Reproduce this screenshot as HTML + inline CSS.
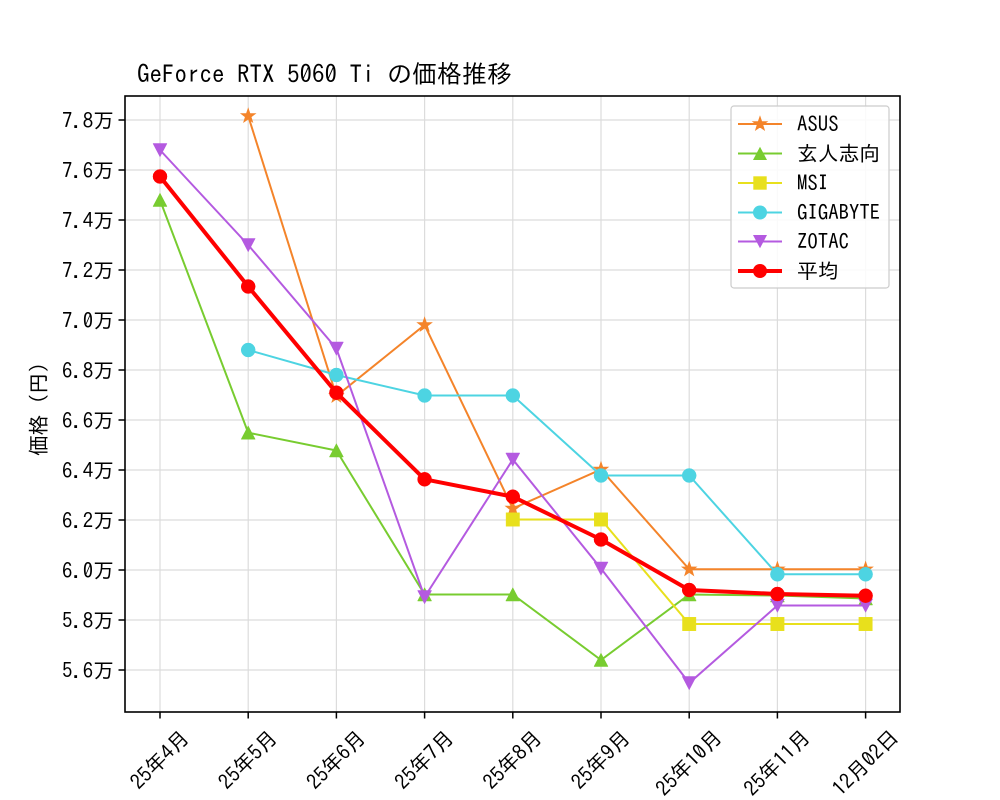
<!DOCTYPE html>
<html><head><meta charset="utf-8"><style>
html,body{margin:0;padding:0;background:#fff;}
svg{display:block;font-family:"IPAGothic","Liberation Mono","Noto Sans CJK JP",monospace;}
</style></head><body>
<svg width="1000" height="800" viewBox="0 0 1000 800" xmlns="http://www.w3.org/2000/svg">
<defs>
<polygon id="star" points="0,-7.5 1.76,-2.43 7.13,-2.32 2.85,0.93 4.41,6.07 0,3 -4.41,6.07 -2.85,0.93 -7.13,-2.32 -1.76,-2.43"/>
<polygon id="tu" points="0,-6.8 -7,6.5 7,6.5"/>
<polygon id="td" points="0,6.8 -7,-6.5 7,-6.5"/>
<rect id="sq" x="-6.7" y="-6.7" width="13.4" height="13.4"/>
<circle id="ci" r="7"/>
</defs>
<rect width="1000" height="800" fill="#fff"/>
<!-- grid -->
<g stroke="#dcdcdc" stroke-width="1.2">
<line x1="160" y1="96" x2="160" y2="712"/>
<line x1="248.2" y1="96" x2="248.2" y2="712"/>
<line x1="336.4" y1="96" x2="336.4" y2="712"/>
<line x1="424.6" y1="96" x2="424.6" y2="712"/>
<line x1="512.8" y1="96" x2="512.8" y2="712"/>
<line x1="601" y1="96" x2="601" y2="712"/>
<line x1="689.2" y1="96" x2="689.2" y2="712"/>
<line x1="777.4" y1="96" x2="777.4" y2="712"/>
<line x1="865.6" y1="96" x2="865.6" y2="712"/>
<line x1="125" y1="120" x2="900" y2="120"/>
<line x1="125" y1="170" x2="900" y2="170"/>
<line x1="125" y1="220" x2="900" y2="220"/>
<line x1="125" y1="270" x2="900" y2="270"/>
<line x1="125" y1="320" x2="900" y2="320"/>
<line x1="125" y1="370" x2="900" y2="370"/>
<line x1="125" y1="420" x2="900" y2="420"/>
<line x1="125" y1="470" x2="900" y2="470"/>
<line x1="125" y1="520" x2="900" y2="520"/>
<line x1="125" y1="570" x2="900" y2="570"/>
<line x1="125" y1="620" x2="900" y2="620"/>
<line x1="125" y1="670" x2="900" y2="670"/>
</g>
<!-- ASUS -->
<g fill="#f4842a" stroke="#f4842a">
<polyline fill="none" stroke-width="2" points="248.2,116 336.4,396 424.6,325 512.8,508.5 601,469.5 689.2,569.3 777.4,569.3 865.6,569.3"/>
<g stroke-width="0.8">
<use href="#star" x="248.2" y="116"/><use href="#star" x="336.4" y="396"/><use href="#star" x="424.6" y="325"/><use href="#star" x="512.8" y="508.5"/><use href="#star" x="601" y="469.5"/><use href="#star" x="689.2" y="569.3"/><use href="#star" x="777.4" y="569.3"/><use href="#star" x="865.6" y="569.3"/>
</g></g>
<!-- 玄人志向 -->
<g fill="#78cc30" stroke="#78cc30">
<polyline fill="none" stroke-width="2" points="160,200 248.2,432.7 336.4,450.5 424.6,594.5 512.8,594.5 601,660 689.2,594.5 777.4,595.5 865.6,598.5"/>
<g stroke-width="0.5">
<use href="#tu" x="160" y="200"/><use href="#tu" x="248.2" y="432.7"/><use href="#tu" x="336.4" y="450.5"/><use href="#tu" x="424.6" y="594.5"/><use href="#tu" x="512.8" y="594.5"/><use href="#tu" x="601" y="660"/><use href="#tu" x="689.2" y="594.5"/><use href="#tu" x="777.4" y="595.5"/><use href="#tu" x="865.6" y="598.5"/>
</g></g>
<!-- MSI -->
<g fill="#e8e01c" stroke="#e8e01c">
<polyline fill="none" stroke-width="2" points="512.8,519.5 601,519.5 689.2,624 777.4,624 865.6,624"/>
<g stroke-width="0.5">
<use href="#sq" x="512.8" y="519.5"/><use href="#sq" x="601" y="519.5"/><use href="#sq" x="689.2" y="624"/><use href="#sq" x="777.4" y="624"/><use href="#sq" x="865.6" y="624"/>
</g></g>
<!-- GIGABYTE -->
<g fill="#4dd4e2" stroke="#4dd4e2">
<polyline fill="none" stroke-width="2" points="248.2,350 336.4,375 424.6,395.5 512.8,395.5 601,475.5 689.2,475.5 777.4,574.3 865.6,574.3"/>
<g stroke-width="0.5">
<use href="#ci" x="248.2" y="350"/><use href="#ci" x="336.4" y="375"/><use href="#ci" x="424.6" y="395.5"/><use href="#ci" x="512.8" y="395.5"/><use href="#ci" x="601" y="475.5"/><use href="#ci" x="689.2" y="475.5"/><use href="#ci" x="777.4" y="574.3"/><use href="#ci" x="865.6" y="574.3"/>
</g></g>
<!-- ZOTAC -->
<g fill="#b45ae0" stroke="#b45ae0">
<polyline fill="none" stroke-width="2" points="160,150 248.2,245 336.4,348.5 424.6,597 512.8,459.5 601,568.5 689.2,683 777.4,605.5 865.6,605.5"/>
<g stroke-width="0.5">
<use href="#td" x="160" y="150"/><use href="#td" x="248.2" y="245"/><use href="#td" x="336.4" y="348.5"/><use href="#td" x="424.6" y="597"/><use href="#td" x="512.8" y="459.5"/><use href="#td" x="601" y="568.5"/><use href="#td" x="689.2" y="683"/><use href="#td" x="777.4" y="605.5"/><use href="#td" x="865.6" y="605.5"/>
</g></g>
<!-- 平均 -->
<g fill="#ff0000" stroke="#ff0000">
<polyline fill="none" stroke-width="4" stroke-linejoin="round" points="160,176.5 248.2,286.5 336.4,392.7 424.6,479.3 512.8,496.7 601,539.5 689.2,590 777.4,594 865.6,595.7"/>
<g stroke-width="0.5">
<use href="#ci" x="160" y="176.5"/><use href="#ci" x="248.2" y="286.5"/><use href="#ci" x="336.4" y="392.7"/><use href="#ci" x="424.6" y="479.3"/><use href="#ci" x="512.8" y="496.7"/><use href="#ci" x="601" y="539.5"/><use href="#ci" x="689.2" y="590"/><use href="#ci" x="777.4" y="594"/><use href="#ci" x="865.6" y="595.7"/>
</g></g>
<!-- axes frame -->
<rect x="125" y="96" width="775" height="616" fill="none" stroke="#000" stroke-width="1.6"/>
<!-- ticks -->
<g stroke="#000" stroke-width="1.5">
<line x1="118.5" y1="120" x2="125" y2="120"/><line x1="118.5" y1="170" x2="125" y2="170"/><line x1="118.5" y1="220" x2="125" y2="220"/><line x1="118.5" y1="270" x2="125" y2="270"/><line x1="118.5" y1="320" x2="125" y2="320"/><line x1="118.5" y1="370" x2="125" y2="370"/><line x1="118.5" y1="420" x2="125" y2="420"/><line x1="118.5" y1="470" x2="125" y2="470"/><line x1="118.5" y1="520" x2="125" y2="520"/><line x1="118.5" y1="570" x2="125" y2="570"/><line x1="118.5" y1="620" x2="125" y2="620"/><line x1="118.5" y1="670" x2="125" y2="670"/>
<line x1="160" y1="712" x2="160" y2="718.5"/><line x1="248.2" y1="712" x2="248.2" y2="718.5"/><line x1="336.4" y1="712" x2="336.4" y2="718.5"/><line x1="424.6" y1="712" x2="424.6" y2="718.5"/><line x1="512.8" y1="712" x2="512.8" y2="718.5"/><line x1="601" y1="712" x2="601" y2="718.5"/><line x1="689.2" y1="712" x2="689.2" y2="718.5"/><line x1="777.4" y1="712" x2="777.4" y2="718.5"/><line x1="865.6" y1="712" x2="865.6" y2="718.5"/>
</g>
<!-- y tick labels -->
<g font-size="20.8" fill="#000" text-anchor="end">
<text x="114" y="127.8">7.8万</text>
<text x="114" y="177.8">7.6万</text>
<text x="114" y="227.8">7.4万</text>
<text x="114" y="277.8">7.2万</text>
<text x="114" y="327.8">7.0万</text>
<text x="114" y="377.8">6.8万</text>
<text x="114" y="427.8">6.6万</text>
<text x="114" y="477.8">6.4万</text>
<text x="114" y="527.8">6.2万</text>
<text x="114" y="577.8">6.0万</text>
<text x="114" y="627.8">5.8万</text>
<text x="114" y="677.8">5.6万</text>
</g>
<!-- x tick labels -->
<g font-size="20.8" fill="#000" text-anchor="middle" dominant-baseline="central">
<text x="160" y="760" transform="rotate(-45 160 760)">25年4月</text>
<text x="248.2" y="760" transform="rotate(-45 248.2 760)">25年5月</text>
<text x="336.4" y="760" transform="rotate(-45 336.4 760)">25年6月</text>
<text x="424.6" y="760" transform="rotate(-45 424.6 760)">25年7月</text>
<text x="512.8" y="760" transform="rotate(-45 512.8 760)">25年8月</text>
<text x="601" y="760" transform="rotate(-45 601 760)">25年9月</text>
<text x="689.2" y="763" transform="rotate(-45 689.2 763)">25年10月</text>
<text x="777.4" y="763" transform="rotate(-45 777.4 763)">25年11月</text>
<text x="865.6" y="763" transform="rotate(-45 865.6 763)">12月02日</text>
</g>
<!-- y label -->
<text x="39" y="404" font-size="20.8" fill="#000" text-anchor="middle" dominant-baseline="central" transform="rotate(-90 39 404)">価格（円）</text>
<!-- title -->
<text x="137" y="83" font-size="25" fill="#000">GeForce RTX 5060 Ti の価格推移</text>
<!-- legend -->
<rect x="731" y="106" width="158" height="182" rx="3" fill="#fff" fill-opacity="0.85" stroke="#cccccc" stroke-width="1.2"/>
<g>
<line x1="738" y1="124" x2="782" y2="124" stroke="#f4842a" stroke-width="2"/>
<use href="#star" x="760" y="124" fill="#f4842a" stroke="#f4842a" stroke-width="0.8"/>
<line x1="738" y1="153.5" x2="782" y2="153.5" stroke="#78cc30" stroke-width="2"/>
<use href="#tu" x="760" y="153.5" fill="#78cc30"/>
<line x1="738" y1="183" x2="782" y2="183" stroke="#e8e01c" stroke-width="2"/>
<use href="#sq" x="760" y="183" fill="#e8e01c"/>
<line x1="738" y1="212.5" x2="782" y2="212.5" stroke="#4dd4e2" stroke-width="2"/>
<use href="#ci" x="760" y="212.5" fill="#4dd4e2"/>
<line x1="738" y1="241.5" x2="782" y2="241.5" stroke="#b45ae0" stroke-width="2"/>
<use href="#td" x="760" y="241.5" fill="#b45ae0"/>
<line x1="738" y1="271" x2="782" y2="271" stroke="#ff0000" stroke-width="4"/>
<use href="#ci" x="760" y="271" fill="#ff0000"/>
</g>
<g font-size="20.8" fill="#000">
<text x="797" y="131.5">ASUS</text>
<text x="797" y="161">玄人志向</text>
<text x="797" y="190.5">MSI</text>
<text x="797" y="220">GIGABYTE</text>
<text x="797" y="249">ZOTAC</text>
<text x="797" y="278.5">平均</text>
</g>
</svg>
</body></html>
